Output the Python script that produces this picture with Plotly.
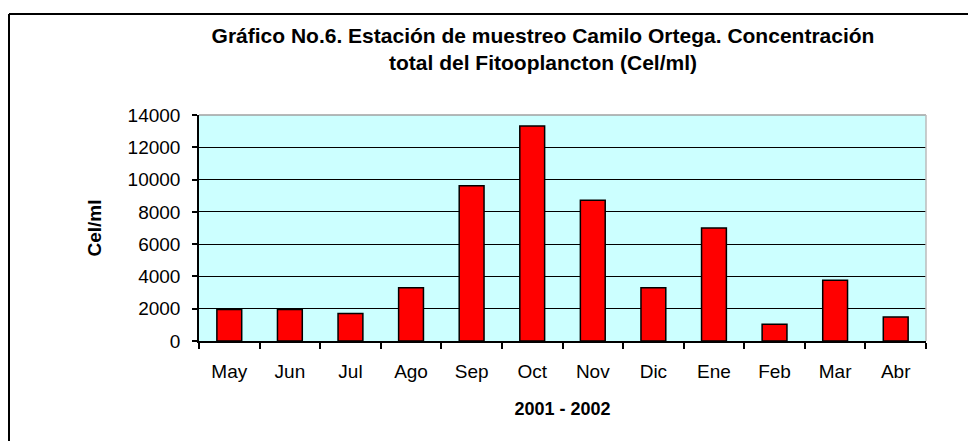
import plotly.graph_objects as go

months = ["May", "Jun", "Jul", "Ago", "Sep", "Oct", "Nov", "Dic", "Ene", "Feb", "Mar", "Abr"]
values = [1950, 1950, 1700, 3300, 9620, 13320, 8720, 3300, 7000, 1030, 3760, 1480]
y_ticks = [0, 2000, 4000, 6000, 8000, 10000, 12000, 14000]

FONT = "Liberation Sans, Arial, sans-serif"

# page has an 8px body margin; figure coordinates = page coordinates - 8
OFF = 8
W, H = 976 - OFF, 441 - OFF
L, T = 199 - OFF, 115 - OFF
R = W - (926 - OFF)
B = H - (341 - OFF)
pw, ph = W - L - R, H - T - B

fig = go.Figure(go.Bar(
    x=months, y=values,
    marker=dict(color="#FF0000", line=dict(color="black", width=1.5)),
))

fig.update_layout(
    width=W, height=H,
    margin=dict(l=L, r=R, t=T, b=B),
    paper_bgcolor="white",
    plot_bgcolor="#CCFFFF",
    bargap=0.59,
    showlegend=False,
    font=dict(family=FONT, color="black", size=19),
    title=dict(
        text="<b>Gráfico No.6. Estación de muestreo Camilo Ortega. Concentración<br>total del Fitooplancton (Cel/ml)</b>",
        x=(543 - OFF) / W, xref="container", xanchor="center",
        y=1 - 35 / H, yanchor="top",
        font=dict(family=FONT, size=21, color="black"),
    ),
    xaxis=dict(
        showline=True, linecolor="black", linewidth=1.5,
        ticks="outside", tickson="boundaries", ticklen=6, tickcolor="black", tickwidth=1.5,
        showgrid=False,
        tickfont=dict(size=19),
        ticklabelstandoff=12,
        title=dict(text="<b>2001 - 2002</b>", font=dict(size=18), standoff=22),
        fixedrange=True,
    ),
    yaxis=dict(
        range=[0, 14000],
        tickvals=y_ticks,
        ticktext=[str(v) for v in y_ticks],
        showline=True, linecolor="black", linewidth=1.5,
        ticks="outside", ticklen=5, tickcolor="black", tickwidth=1.5,
        showgrid=True, gridcolor="black", gridwidth=1.2,
        zeroline=False,
        tickfont=dict(size=19),
        ticklabelstandoff=8,
        title=dict(text="<b>Cel/ml</b>", font=dict(size=19), standoff=21),
        fixedrange=True,
    ),
    shapes=[
        # plot area border (top/right gray)
        dict(type="line", xref="paper", yref="paper", x0=0, x1=1, y0=1, y1=1,
             line=dict(color="#A0A0A0", width=1.5)),
        dict(type="line", xref="paper", yref="paper", x0=1, x1=1, y0=0, y1=1,
             line=dict(color="#BBBBBB", width=1.5)),
        # outer chart border (left and top visible)
        dict(type="line", xref="paper", yref="paper",
             x0=(1 - L) / pw, x1=(1 - L) / pw, y0=(H - B - 6) / ph, y1=(H - B - 460) / ph,
             line=dict(color="black", width=2)),
        dict(type="line", xref="paper", yref="paper",
             x0=(1 - L) / pw, x1=(1000 - L) / pw, y0=(H - B - 6) / ph, y1=(H - B - 6) / ph,
             line=dict(color="black", width=2)),
    ],
)

fig.write_html("out.html")
